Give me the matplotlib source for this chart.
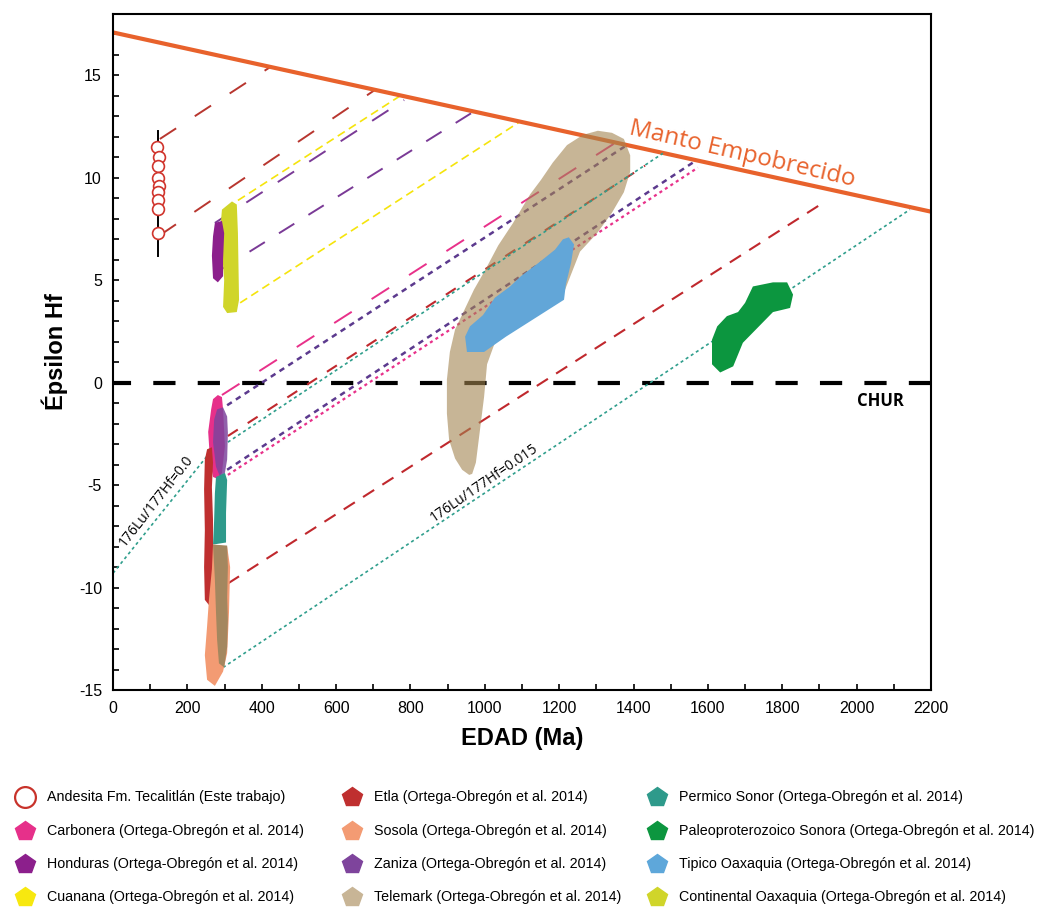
import matplotlib.pyplot as plt
from matplotlib.lines import Line2D
from matplotlib.ticker import MultipleLocator

plt.rcParams['font.family'] = ['Liberation Sans', 'DejaVu Sans']
plt.rcParams['axes.unicode_minus'] = False
plt.rcParams['lines.scale_dashes'] = False

# ---- reference curves (age Ma, epsilon Hf) ----
dm_age = [0, 2200]
dm_eps = [17.1, 8.35]
chur_age = [0, 2200]
chur_eps = [0, 0]

# ---- this work ----
andesita_age = [118, 124, 121, 120, 125, 121, 120, 121, 121]
andesita_eps = [11.5, 11.0, 10.6, 10.0, 9.6, 9.3, 8.9, 8.5, 7.3]
andesita_range = [6.2, 12.3]

# ---- Ortega-Obregón et al. 2014 fields ----
telemark_age = [958, 939, 920, 904, 898, 898, 906, 920, 941, 971, 1001, 1036, 1076, 1122,
                1151, 1183, 1221, 1264, 1304, 1342, 1374, 1391, 1391, 1374, 1342, 1302,
                1256, 1216, 1162, 1081, 1027, 1006, 998, 987, 976, 966]
telemark_eps = [-4.5, -4.25, -3.7, -2.8, -1.5, 0.15, 1.5, 2.6, 3.4, 4.55, 5.5, 6.7, 7.8, 9.2,
                9.9, 10.75, 11.6, 12.1, 12.3, 12.2, 11.9, 11.1, 10.3, 9.3, 8.3, 7.3,
                6.4, 4.55, 3.6, 2.75, 1.95, 0.9, -0.7, -2.3, -3.9, -4.45]
tipico_age = [952, 947, 960, 995, 1027, 1068, 1097, 1148, 1189, 1210, 1226, 1240, 1232, 1218,
              1213, 1122, 1057, 998]
tipico_eps = [1.5, 2.25, 2.75, 3.3, 4.15, 4.7, 5.2, 5.9, 6.5, 7.0, 7.1, 6.75, 5.85, 4.8,
              4.05, 3.0, 2.25, 1.5]
sonora_age = [1721, 1775, 1813, 1829, 1821, 1775, 1748, 1694, 1668, 1633, 1611, 1611, 1625,
              1651, 1681, 1700]
sonora_eps = [4.7, 4.9, 4.9, 4.3, 3.65, 3.45, 2.95, 1.95, 0.8, 0.5, 0.9, 2.1, 2.75,
              3.25, 3.45, 3.9]
honduras_age = [274, 293, 299, 296, 296, 282, 269, 266, 269]
honduras_eps = [7.8, 7.9, 7.3, 6.0, 5.2, 4.9, 5.1, 6.2, 7.15]
continental_age = [293, 320, 333, 336, 339, 333, 307, 296, 299, 293, 290]
continental_eps = [8.45, 8.85, 8.7, 7.3, 4.05, 3.45, 3.4, 3.7, 5.0, 6.5, 7.8]
carbonera_age = [282, 293, 296, 301, 293, 282, 269, 261, 256, 264, 269]
carbonera_eps = [-0.6, -0.7, -1.3, -3.1, -4.4, -4.7, -4.6, -3.8, -2.4, -1.3, -0.8]
zaniza_age = [280, 296, 307, 309, 307, 301, 288, 277, 269, 272]
zaniza_eps = [-1.3, -1.2, -1.65, -2.45, -3.75, -4.4, -4.6, -4.1, -2.9, -1.8]
permico_age = [277, 301, 307, 304, 304, 269, 272, 274]
permico_eps = [-4.6, -4.4, -4.75, -6.35, -7.8, -7.9, -6.7, -5.4]
etla_age = [253, 266, 269, 266, 269, 269, 269, 258, 247, 245, 247, 245, 247]
etla_eps = [-3.25, -3.15, -3.9, -5.1, -6.7, -9.0, -10.6, -10.85, -10.6, -9.0, -7.2, -5.2, -3.75]
sosola_age = [269, 307, 315, 312, 307, 296, 274, 253, 247, 253, 258, 266]
sosola_eps = [-7.9, -8.0, -9.0, -11.2, -13.2, -14.1, -14.8, -14.5, -13.3, -11.9, -10.6, -9.1]
sosola_mix_age = [269, 307, 309, 307, 309, 307, 299, 285, 280, 277, 274]
sosola_mix_eps = [-7.9, -7.95, -9.0, -10.45, -11.6, -12.9, -13.9, -13.7, -12.55, -11.2, -9.6]

# ---- Hf evolution lines: ([age start, age end], [eps start, eps end]) ----
andesita_l1 = ([126, 422], [11.9, 15.4])
andesita_l2 = ([126, 705], [7.2, 14.3])
honduras_l1 = ([274, 783], [7.8, 13.8])
honduras_l2 = ([288, 976], [5.5, 13.3])
cuanana_l1 = ([336, 772], [8.9, 14.0])
cuanana_l2 = ([342, 1095], [3.9, 12.75])
carbonera_l1 = ([293, 1350], [-0.6, 11.7])
carbonera_l2 = ([309, 1573], [-4.5, 10.5])
zaniza_l1 = ([307, 1382], [-1.1, 11.6])
zaniza_l2 = ([307, 1560], [-4.25, 10.75])
etla_l1 = ([309, 1431], [-2.6, 10.6])
etla_l2 = ([309, 1907], [-9.8, 8.75])
permico_l1 = ([309, 1479], [-2.9, 11.2])
lu015_line = ([296, 2143], [-13.9, 8.45])
lu000_line = ([0, 261], [-9.3, -3.4])

legend_labels = [
    'Andesita Fm. Tecalitlán (Este trabajo)',
    'Carbonera (Ortega-Obregón et al. 2014)',
    'Honduras (Ortega-Obregón et al. 2014)',
    'Cuanana (Ortega-Obregón et al. 2014)',
    'Etla (Ortega-Obregón et al. 2014)',
    'Sosola (Ortega-Obregón et al. 2014)',
    'Zaniza (Ortega-Obregón et al. 2014)',
    'Telemark (Ortega-Obregón et al. 2014)',
    'Permico Sonor (Ortega-Obregón et al. 2014)',
    'Paleoproterozoico Sonora (Ortega-Obregón et al. 2014)',
    'Tipico Oaxaquia (Ortega-Obregón et al. 2014)',
    'Continental Oaxaquia (Ortega-Obregón et al. 2014)',
]
legend_colors = ['#c8332b', '#e6308a', '#8c1f8c', '#f7e80f', '#bf2f2f', '#f39b73',
                 '#7e449c', '#c8b596', '#2e9a8b', '#0c963f', '#5ea7da', '#d0d52a']

W, H = 1039, 907
fig = plt.figure(figsize=(W / 100, H / 100), dpi=100)
ax = fig.add_axes([113 / W, 1 - 690 / H, (931 - 113) / W, (690 - 14) / H])

red_a = '#b8362f'
red_e = '#c0282d'
purple = '#7a3a96'
pink = '#e8318a'
teal = '#2f9e8c'
yellow = '#f5e40c'

# CHUR and depleted mantle
ax.plot(chur_age, chur_eps, color='black', lw=3, ls=(3, (16, 16)), zorder=2)
ax.plot(dm_age, dm_eps, color='#e8622c', lw=3, zorder=2.5)

# evolution lines
ax.plot(*andesita_l1, color=red_a, lw=1.4, ls=(0, (14, 16)), zorder=2)
ax.plot(*andesita_l2, color=red_a, lw=1.4, ls=(0, (14, 16)), zorder=2)
ax.plot(*honduras_l1, color=purple, lw=1.4, ls=(0, (14, 13)), zorder=2)
ax.plot(*honduras_l2, color=purple, lw=1.4, ls=(0, (13, 12)), zorder=2)
ax.plot(*cuanana_l1, color=yellow, lw=1.2, ls=(0, (6, 3.5)), zorder=2)
ax.plot(*cuanana_l2, color=yellow, lw=1.2, ls=(0, (6, 3.5)), zorder=2)
ax.plot(*carbonera_l1, color=pink, lw=1.4, ls=(0, (15, 17)), zorder=2)
ax.plot(*zaniza_l1, color='#5c3a8e', lw=1.8, ls=(0, (4, 3.5)), zorder=2)
ax.plot(*etla_l1, color=red_e, lw=1.5, ls=(0, (8.5, 8.5)), zorder=2)
ax.plot(*permico_l1, color=teal, lw=1.2, ls=(0, (2.2, 2.2)), zorder=3.5)
ax.plot(*zaniza_l2, color='#5c3a8e', lw=1.8, ls=(0, (4, 3.5)), zorder=2)
ax.plot(*carbonera_l2, color=pink, lw=1.6, ls=(0, (2.2, 2.5)), zorder=2)
ax.plot(*etla_l2, color=red_e, lw=1.5, ls=(0, (9.5, 7)), zorder=2)
ax.plot(*lu015_line, color=teal, lw=1.2, ls=(0, (2.2, 2.2)), zorder=2)
ax.plot(*lu000_line, color=teal, lw=1.2, ls=(0, (2.2, 2.2)), zorder=2)

# fields
ax.fill(telemark_age, telemark_eps, color='#a38450', alpha=0.6, lw=0, zorder=3)
ax.fill(tipico_age, tipico_eps, color='#62a6d8', lw=0, zorder=4)
ax.fill(sonora_age, sonora_eps, color='#0c963f', lw=0, zorder=4)
ax.fill(continental_age, continental_eps, color='#d0d52a', lw=0, zorder=4)
ax.fill(honduras_age, honduras_eps, color='#8c1f8c', lw=0, zorder=4.1)
ax.fill(carbonera_age, carbonera_eps, color='#e6308a', lw=0, zorder=4)
ax.fill(zaniza_age, zaniza_eps, color='#7e449c', alpha=0.85, lw=0, zorder=4.1)
ax.fill(etla_age, etla_eps, color='#bf2f2f', lw=0, zorder=4.2)
ax.fill(permico_age, permico_eps, color='#2e9a8b', lw=0, zorder=4.2)
ax.fill(sosola_age, sosola_eps, color='#f39b73', lw=0, zorder=4.2)
ax.fill(sosola_mix_age, sosola_mix_eps, color='#a4875f', lw=0, zorder=4.3)

# andesite samples
ax.plot([121, 121], andesita_range, color='black', lw=1.4, zorder=5)
ax.plot(andesita_age, andesita_eps, 'o', ms=8.5, mfc='white', mec='#d0342c', mew=1.2, zorder=6)

# annotations
ax.text(1692, 11.15, 'Manto Empobrecido', color='#e8622c', fontsize=17.5, family='Open Sans',
        rotation=-13, ha='center', va='center', rotation_mode='anchor', zorder=7)
ax.text(2063, -0.9, 'CHUR', fontsize=12, fontweight='bold', family='Open Sans',
        ha='center', va='center')
ax.text(116, -5.75, '176Lu/177Hf=0.0', fontsize=10, family='Open Sans', rotation=52,
        ha='center', va='center', rotation_mode='anchor')
ax.text(998, -4.9, '176Lu/177Hf=0.015', fontsize=10, family='Open Sans', rotation=34.5,
        ha='center', va='center', rotation_mode='anchor')

ax.set_xlim(0, 2200)
ax.set_ylim(-15, 18)
ax.xaxis.set_major_locator(MultipleLocator(200))
ax.xaxis.set_minor_locator(MultipleLocator(100))
ax.yaxis.set_major_locator(MultipleLocator(5))
ax.yaxis.set_minor_locator(MultipleLocator(1))
ax.tick_params(which='both', direction='in', length=4.5, width=1.2, labelsize=11.5, pad=8)
for s in ax.spines.values():
    s.set_linewidth(1.5)
ax.set_xlabel('EDAD (Ma)', fontsize=17, fontweight='bold', labelpad=8)
ax.set_ylabel('Épsilon Hf', fontsize=17, fontweight='bold', labelpad=8)

# legend, three columns placed under the plot
col_x = [25, 352, 657]
row_y = [797, 831, 864, 897]
for i, (lab, col) in enumerate(zip(legend_labels, legend_colors)):
    c, r = divmod(i, 4)
    x, y = col_x[c] / W, 1 - row_y[r] / H
    if i == 0:
        mk = Line2D([x], [y], transform=fig.transFigure, marker='o', ms=15, mfc='white',
                    mec=col, mew=1.6, ls='none')
    else:
        mk = Line2D([x], [y], transform=fig.transFigure, marker='p', ms=15, mfc=col,
                    mec=col, ls='none')
    fig.add_artist(mk)
    fig.text(x + 22 / W, y, lab, fontsize=10.3, va='center', ha='left')

fig.savefig('out.png', dpi=100)
